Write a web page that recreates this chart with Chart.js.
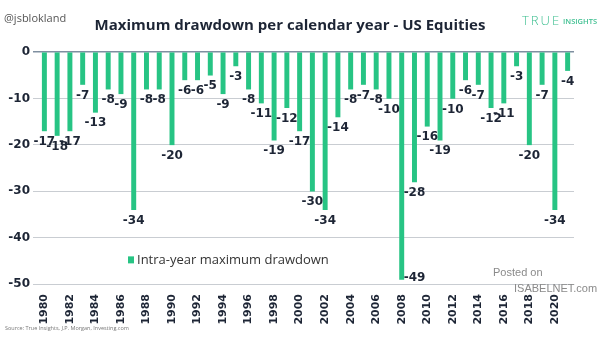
<!DOCTYPE html>
<html>
<head>
<meta charset="utf-8">
<script src="https://cdn.jsdelivr.net/npm/chart.js@4/dist/chart.umd.min.js"></script>
<style>
  html, body { margin: 0; padding: 0; background: #fff; }
  #wrap { position: relative; width: 605px; height: 341px; }
  #chart { position: absolute; left: 0; top: 0; }
</style>
</head>
<body>
<div id="wrap">
  <canvas id="chart" width="605" height="341"></canvas>
</div>
<script>
// years on the x axis
const years = [
  1980, 1981, 1982, 1983, 1984, 1985, 1986, 1987, 1988, 1989,
  1990, 1991, 1992, 1993, 1994, 1995, 1996, 1997, 1998, 1999,
  2000, 2001, 2002, 2003, 2004, 2005, 2006, 2007, 2008, 2009,
  2010, 2011, 2012, 2013, 2014, 2015, 2016, 2017, 2018, 2019,
  2020, 2021,
];

// intra-year maximum drawdown, %
const drawdowns = [
  -17, -18, -17, -7, -13, -8, -9, -34, -8, -8,
  -20, -6, -6, -5, -9, -3, -8, -11, -19, -12,
  -17, -30, -34, -14, -8, -7, -8, -10, -49, -28,
  -16, -19, -10, -6, -7, -12, -11, -3, -20, -7,
  -34, -4,
];

const yTicks = [0, -10, -20, -30, -40, -50];

const seriesName = 'Intra-year maximum drawdown';
const titleText = 'Maximum drawdown per calendar year - US Equities';
const sourceText = 'Source: True Insights, J.P. Morgan, Investing.com';

const GREEN = '#27c484';
const NAVY = '#1d2535';

/* draws the value under each bar, the legend and the header / footer texts */
const decorPlugin = {
  id: 'decor',
  afterDatasetsDraw(chart) {
    const { ctx, chartArea, scales } = chart;
    const meta = chart.getDatasetMeta(0);

    ctx.save();
    ctx.font = 'bold 12px "DejaVu Sans"';
    ctx.fillStyle = NAVY;
    ctx.textAlign = 'center';
    ctx.textBaseline = 'middle';
    meta.data.forEach((bar, i) => {
      const label = String(drawdowns[i]);
      const y = bar.y + 11;
      if (y > chartArea.bottom - 6) {
        // no room below, put it next to the bar end
        ctx.textAlign = 'left';
        ctx.fillText(label, bar.x + 2, bar.y - 1);
        ctx.textAlign = 'center';
        return;
      }
      ctx.fillText(label, bar.x, y);
    });

    // legend inside plot
    const ly = scales.y.getPixelForValue(-44.8);
    ctx.fillStyle = GREEN;
    ctx.fillRect(chartArea.left + 90, ly - 3.5, 6, 7);
    ctx.fillStyle = '#333';
    ctx.font = '13px "Open Sans"';
    ctx.textAlign = 'left';
    ctx.fillText(seriesName, chartArea.left + 99, ly);
    ctx.restore();
  },
  afterDraw(chart) {
    const { ctx } = chart;
    ctx.save();
    ctx.textBaseline = 'alphabetic';

    ctx.fillStyle = NAVY;
    ctx.font = 'bold 15px "Open Sans"';
    ctx.textAlign = 'center';
    ctx.fillText(titleText, 290, 30);

    ctx.fillStyle = '#555';
    ctx.font = '11px "Open Sans"';
    ctx.textAlign = 'left';
    ctx.fillText('@jsblokland', 4, 22);

    ctx.fillStyle = '#3dbf90';
    ctx.font = '300 13px "Open Sans"';
    ctx.letterSpacing = '2px';
    ctx.fillText('TRUE', 522, 25);
    ctx.letterSpacing = '0px';
    ctx.font = '600 7.5px "Open Sans"';
    ctx.fillText('INSIGHTS', 563, 24);

    ctx.fillStyle = '#777';
    ctx.font = '5.5px "Open Sans"';
    ctx.fillText(sourceText, 5, 330);

    ctx.fillStyle = '#8a8a8a';
    ctx.font = '11px "Liberation Sans"';
    ctx.fillText('Posted on', 493, 276);
    ctx.font = '11px "Liberation Sans"';
    ctx.fillText('ISABELNET.com', 514, 292);
    ctx.restore();
  },
};

const config = {
  type: 'bar',
  data: {
    labels: years,
    datasets: [
      {
        label: seriesName,
        data: drawdowns,
        backgroundColor: GREEN,
        borderWidth: 0,
        barThickness: 4.3,
      },
    ],
  },
  options: {
    responsive: false,
    animation: false,
    layout: {
      padding: { top: 52, right: 31, bottom: 12, left: 0 },
    },
    plugins: {
      legend: { display: false },
      tooltip: { enabled: false },
    },
    scales: {
      x: {
        grid: { display: false },
        border: { display: false },
        ticks: {
          autoSkip: false,
          maxRotation: 90,
          minRotation: 90,
          padding: 2,
          color: NAVY,
          font: { family: 'DejaVu Sans', size: 11, weight: 'bold' },
          callback(value, index) {
            return index % 2 === 0 ? years[index] : '';
          },
        },
        afterFit(scale) {
          scale.height = 45;
        },
      },
      y: {
        min: -50,
        max: 0,
        afterBuildTicks(scale) {
          scale.ticks = yTicks.map(v => ({ value: v }));
        },
        grid: {
          color(ctx) {
            return ctx.tick && ctx.tick.value === 0 ? '#7f8fa0' : '#c9cdd2';
          },
          lineWidth(ctx) {
            return ctx.tick && ctx.tick.value === 0 ? 1.5 : 1;
          },
          tickLength: 5,
          drawTicks: true,
        },
        border: { display: false },
        ticks: {
          padding: 3,
          color: NAVY,
          font: { family: 'DejaVu Sans', size: 12, weight: 'bold' },
        },
        afterFit(scale) {
          scale.width = 38;
        },
      },
    },
  },
  plugins: [decorPlugin],
};

new Chart(document.getElementById('chart').getContext('2d'), config);
</script>
</body>
</html>
